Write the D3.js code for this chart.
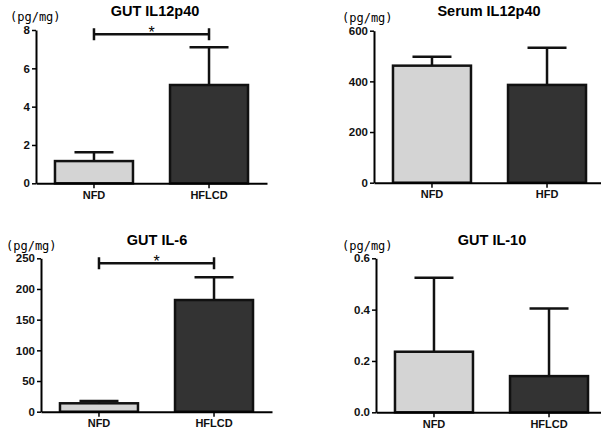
<!DOCTYPE html>
<html lang="en">
<head>
<meta charset="UTF-8">
<title>Cytokine levels NFD vs HFLCD</title>
<script src="https://d3js.org/d3.v7.min.js"></script>
<style>
    body { margin: 0; background: #fff; }
    .tick text, .cat text { font-family: 'Liberation Sans', Arial, sans-serif; font-weight: bold; }
    .title { font-family: 'Liberation Sans', Arial, sans-serif; font-weight: bold; font-size: 14.5px; }
    .unit { font-family: 'DejaVu Sans Mono', monospace; font-size: 12px; }
</style>
</head>
<body>
<div id="chart"></div>
<script>
// values (mean + upper error)
const gutIl12Groups = ["NFD", "HFLCD"];
const gutIl12Mean = [1.16, 5.13];
const gutIl12Err = [0.46, 1.97];
const gutIl12Ticks = [0, 2, 4, 6, 8];

const serumIl12Groups = ["NFD", "HFD"];
const serumIl12Mean = [462, 386];
const serumIl12Err = [35, 147];
const serumIl12Ticks = [0, 200, 400, 600];

const gutIl6Groups = ["NFD", "HFLCD"];
const gutIl6Mean = [13.7, 182];
const gutIl6Err = [3.7, 37];
const gutIl6Ticks = [0, 50, 100, 150, 200, 250];

const gutIl10Groups = ["NFD", "HFLCD"];
const gutIl10Mean = [0.236, 0.141];
const gutIl10Err = [0.288, 0.263];
const gutIl10Ticks = [0.0, 0.2, 0.4, 0.6];

const fills = ["#d4d4d4", "#333333"];

const svg = d3.select("#chart").append("svg")
    .attr("width", 601)
    .attr("height", 429);

const panels = [
    { title: "GUT IL12p40", groups: gutIl12Groups, mean: gutIl12Mean, err: gutIl12Err, ticks: gutIl12Ticks,
      fmt: d3.format("d"), ax: 36, y0: 183.3, yTop: 30, titleX: 155, titleY: 16, unitX: 10, unitY: 21, sig: 7.78 },
    { title: "Serum IL12p40", groups: serumIl12Groups, mean: serumIl12Mean, err: serumIl12Err, ticks: serumIl12Ticks,
      fmt: d3.format("d"), ax: 374, y0: 182.7, yTop: 30.7, titleX: 489, titleY: 16, unitX: 342, unitY: 22, sig: null },
    { title: "GUT IL-6", groups: gutIl6Groups, mean: gutIl6Mean, err: gutIl6Err, ticks: gutIl6Ticks,
      fmt: d3.format("d"), ax: 41, y0: 411.7, yTop: 258.3, titleX: 157, titleY: 245, unitX: 6, unitY: 250, sig: 242 },
    { title: "GUT IL-10", groups: gutIl10Groups, mean: gutIl10Mean, err: gutIl10Err, ticks: gutIl10Ticks,
      fmt: d3.format(".1f"), ax: 376, y0: 412.3, yTop: 258.3, titleX: 492, titleY: 245, unitX: 342, unitY: 250, sig: null }
];

panels.forEach(p => {
    const g = svg.append("g");

    const x = d3.scaleBand()
        .domain(p.groups)
        .range([p.ax, p.ax + 231])
        .paddingInner(0.322)
        .paddingOuter(0.165);

    const y = d3.scaleLinear()
        .domain([0, d3.max(p.ticks)])
        .range([p.y0, p.yTop]);

    const bw = x.bandwidth();

    // error bars (upper only)
    p.groups.forEach((grp, i) => {
        const cx = x(grp) + bw / 2;
        const top = y(p.mean[i] + p.err[i]);
        g.append("line")
            .attr("x1", cx).attr("x2", cx)
            .attr("y1", y(p.mean[i])).attr("y2", top)
            .attr("stroke", "#111").attr("stroke-width", 2.5);
        g.append("line")
            .attr("x1", cx - bw / 4).attr("x2", cx + bw / 4)
            .attr("y1", top).attr("y2", top)
            .attr("stroke", "#111").attr("stroke-width", 2.5);
    });

    // bars
    g.selectAll("rect.bar")
        .data(p.groups)
        .enter()
        .append("rect")
        .attr("class", "bar")
        .attr("x", d => x(d))
        .attr("width", bw)
        .attr("y", (d, i) => y(p.mean[i]))
        .attr("height", (d, i) => p.y0 - y(p.mean[i]))
        .attr("fill", (d, i) => fills[i])
        .attr("stroke", "#111")
        .attr("stroke-width", 2.5);

    // axes
    const yAxis = g.append("g")
        .attr("transform", `translate(${p.ax},0)`)
        .call(d3.axisLeft(y).tickValues(p.ticks).tickFormat(p.fmt).tickSize(4).tickSizeOuter(0).tickPadding(2));
    yAxis.select(".domain").attr("stroke-width", 2);
    yAxis.selectAll(".tick line").attr("stroke-width", 1.5);
    yAxis.selectAll(".tick text").style("font-size", "11.5px").attr("fill", "#111");

    const xAxis = g.append("g")
        .attr("class", "cat")
        .attr("transform", `translate(0,${p.y0})`)
        .call(d3.axisBottom(x).tickSize(5).tickSizeOuter(0).tickPadding(3));
    xAxis.select(".domain").attr("stroke-width", 2);
    xAxis.selectAll(".tick line").attr("stroke-width", 1.5);
    xAxis.selectAll(".tick text").style("font-size", "11px").attr("fill", "#111");

    // titles
    g.append("text")
        .attr("class", "title")
        .attr("x", p.titleX).attr("y", p.titleY)
        .attr("text-anchor", "middle")
        .text(p.title);

    g.append("text")
        .attr("class", "unit")
        .attr("x", p.unitX).attr("y", p.unitY)
        .text("(pg/mg)");

    // significance bracket
    if (p.sig !== null) {
        const x1 = x(p.groups[0]) + bw / 2;
        const x2 = x(p.groups[1]) + bw / 2;
        const sy = y(p.sig);
        g.append("path")
            .attr("d", `M${x1},${sy - 6}V${sy + 6}M${x1},${sy}H${x2}M${x2},${sy - 6}V${sy + 6}`)
            .attr("stroke", "#111").attr("stroke-width", 2.5).attr("fill", "none");
        g.append("text")
            .attr("x", (x1 + x2) / 2).attr("y", sy + 4)
            .attr("text-anchor", "middle")
            .style("font-family", "'Liberation Sans', sans-serif")
            .style("font-size", "16px")
            .text("*");
    }
});
</script>
</body>
</html>
